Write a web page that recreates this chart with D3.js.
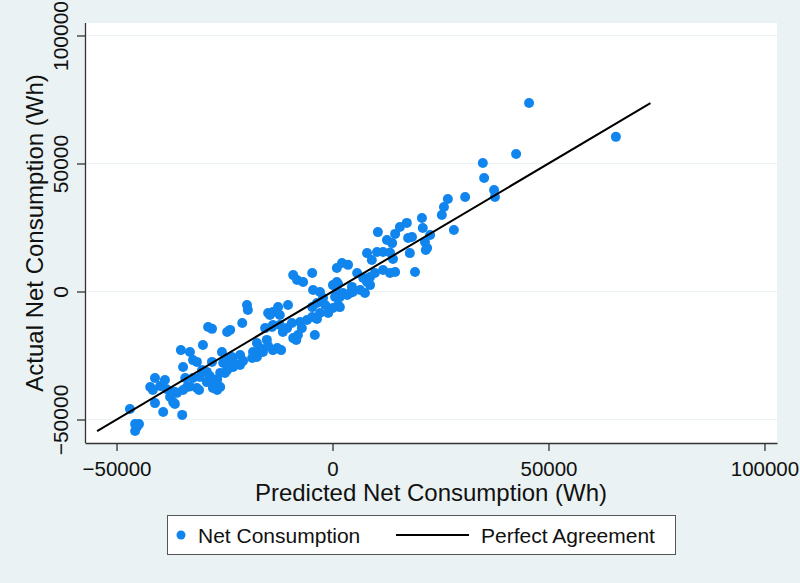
<!DOCTYPE html>
<html>
<head>
<meta charset="utf-8">
<script src="https://cdn.jsdelivr.net/npm/d3@7"></script>
<style>
  html, body { margin: 0; padding: 0; background: #eaf2f3; }
  svg { display: block; }
  text { font-family: "Liberation Sans", Arial, sans-serif; fill: #111; }
</style>
</head>
<body>
<svg id="chart" width="800" height="583"></svg>
<script>
// Predicted net consumption (Wh)
const predicted = [
  -46900,-45700,-45300,-45700,-44800,-42200,-41600,-41100,-39900,-38800,
  -38500,-37600,-36900,-37600,-36500,-36900,-36500,-41100,-39200,-34800,
  -34100,-33700,-34600,-33000,-32300,-31400,-30900,-36000,-30700,-30200,
  -29100,-28400,-29100,-27700,-26700,-26700,-27700,-26000,-26700,-26000,
  -24900,-24400,-23700,-25300,-23000,-34600,-32300,-31400,-35100,-33000,
  -30000,-27900,-25600,-24400,-23300,-23000,-21400,-20700,-21400,-28800,
  -27900,-24400,-23700,-20900,-19800,-19600,-18400,-17500,-18600,-16800,
  -16100,-17500,-15200,-14900,-13800,-12800,-11900,-15600,-14000,-13800,
  -12200,-11500,-10500,-9400,-14900,-13800,-14500,-12600,-12200,-10300,
  -8400,-9100,-8000,-7500,-7100,-5900,-4700,-3600,-2900,-1000,
  -4100,-4500,-2900,-2200,-1700,-4700,-3600,-9100,-8200,-6800,
  -4700,1000,1300,100,1000,1700,600,2400,3400,4100,
  4500,4700,7500,1700,1300,100,2200,3600,1000,5700,
  7100,8700,9800,8000,8700,6400,8000,9100,10300,11700,
  13300,14000,11700,13300,14500,10500,14500,12600,13800,15600,
  17200,17500,18400,17900,19100,20700,20900,21400,21900,21600,
  22600,25300,25800,26700,28100,30700,34800,35100,37400,37600,
  42500,45500,65600
];
// Actual net consumption (Wh)
const actual = [
  -45900,-51800,-52900,-54500,-51800,-37300,-38500,-33800,-36900,-34600,
  -38100,-38900,-39600,-41200,-39300,-43200,-43900,-43600,-47100,-48200,
  -33800,-37300,-38500,-37100,-33800,-37700,-38500,-39600,-33400,-30700,
  -31400,-33000,-35400,-34600,-34400,-36500,-37700,-37300,-38500,-31800,
  -31800,-30700,-29500,-27900,-29500,-29500,-26800,-27500,-22900,-23600,
  -20900,-27500,-23600,-26000,-25600,-27500,-24800,-27100,-28700,-13900,
  -14600,-15800,-15000,-12300,-5300,-7200,-23600,-25600,-26000,-22100,
  -23600,-20100,-18900,-21300,-22900,-22100,-22900,-14300,-13900,-13100,
  -13100,-15800,-14300,-12300,-8400,-8000,-9200,-6100,-9200,-5300,
  -18900,-18200,-17000,-11900,-14300,-11100,-10000,-10700,-8400,-8400,
  -17000,600,-200,-2500,-5300,-6100,-4500,6400,4500,3700,
  7200,3700,2900,2500,-200,-2100,-2100,-600,-1400,-600,
  1800,-200,-600,-6100,-5300,-6400,11100,10400,9200,7200,
  5300,5700,7200,3700,2500,600,15000,12300,15400,15400,
  15200,12700,8400,7200,7600,23200,22500,20100,18900,25200,
  26800,20900,21300,15000,7600,28700,24800,19300,17000,16200,
  22100,29900,33000,36100,24000,36900,50200,44300,39600,36900,
  53700,73600,60400
];
const xTicks = [-50000, 0, 50000, 100000];
const yTicks = [-50000, 0, 50000, 100000];
const xTitle = "Predicted Net Consumption (Wh)";
const yTitle = "Actual Net Consumption (Wh)";
const seriesNames = ["Net Consumption", "Perfect Agreement"];

const data = predicted.map((p, i) => ({ x: p, y: actual[i] }));
const lineRange = d3.extent(actual);

const svg = d3.select("#chart");
const W = 800, H = 583;
const plot = { left: 85, right: 777, top: 23, bottom: 443 };

svg.append("rect").attr("width", W).attr("height", H).attr("fill", "#eaf2f3");
svg.append("rect")
  .attr("x", plot.left).attr("y", plot.top)
  .attr("width", plot.right - plot.left).attr("height", plot.bottom - plot.top)
  .attr("fill", "#ffffff");

const x = d3.scaleLinear().domain([-57300, 102900]).range([plot.left, plot.right]);
const y = d3.scaleLinear().domain([-59180, 104880]).range([plot.bottom, plot.top]);

// gridlines
svg.append("g").selectAll("line").data(yTicks).join("line")
  .attr("x1", plot.left).attr("x2", plot.right)
  .attr("y1", d => Math.round(y(d)) + 0.5).attr("y2", d => Math.round(y(d)) + 0.5)
  .attr("stroke", "#eaf2f3").attr("stroke-width", 1);

// axes
const xAxis = svg.append("g").attr("transform", `translate(0,${plot.bottom})`)
  .call(d3.axisBottom(x).tickValues(xTicks).tickSize(8).tickSizeOuter(0).tickFormat(d3.format("d")));
xAxis.select(".domain").attr("stroke", "#333").attr("stroke-width", 1.3);
xAxis.selectAll(".tick line").attr("stroke", "#333").attr("stroke-width", 1.3);
xAxis.selectAll(".tick text").attr("font-size", 20.5).attr("dy", null).attr("y", 32.5)
  .attr("fill", "#111");

const yAxis = svg.append("g").attr("transform", `translate(${plot.left},0)`)
  .call(d3.axisLeft(y).tickValues(yTicks).tickSize(8).tickSizeOuter(0).tickFormat(d3.format("d")));
yAxis.select(".domain").attr("stroke", "#333").attr("stroke-width", 1.3)
  .attr("d", `M0.5,${plot.bottom}V${plot.top}`);
yAxis.selectAll(".tick line").attr("stroke", "#333").attr("stroke-width", 1.3);
yAxis.selectAll(".tick text")
  .attr("font-size", 21)
  .attr("x", null).attr("dy", null)
  .attr("text-anchor", "middle")
  .attr("transform", "translate(-17,0) rotate(-90)")
  .attr("fill", "#111");

// points
svg.append("g").selectAll("circle").data(data).join("circle")
  .attr("cx", d => x(d.x)).attr("cy", d => y(d.y)).attr("r", 5)
  .attr("fill", "#1185ee");

// perfect agreement line
svg.append("path")
  .datum(lineRange)
  .attr("d", d3.line().x(d => x(d)).y(d => y(d)))
  .attr("stroke", "#000").attr("stroke-width", 2).attr("fill", "none");

// axis titles
svg.append("text").attr("x", (plot.left + plot.right) / 2).attr("y", 501)
  .attr("text-anchor", "middle").attr("font-size", 24).text(xTitle);
svg.append("text")
  .attr("transform", `translate(43,${(plot.top + plot.bottom) / 2}) rotate(-90)`)
  .attr("text-anchor", "middle").attr("font-size", 24).text(yTitle);

// legend
const lg = svg.append("g");
lg.append("rect").attr("x", 167.5).attr("y", 515.5).attr("width", 508).attr("height", 39)
  .attr("fill", "#fff").attr("stroke", "#555").attr("stroke-width", 1);
lg.append("circle").attr("cx", 181).attr("cy", 535).attr("r", 4.5).attr("fill", "#1185ee");
lg.append("text").attr("x", 198).attr("y", 543).attr("font-size", 21).text(seriesNames[0]);
lg.append("line").attr("x1", 396).attr("x2", 469).attr("y1", 535).attr("y2", 535)
  .attr("stroke", "#000").attr("stroke-width", 2);
lg.append("text").attr("x", 481).attr("y", 543).attr("font-size", 21).text(seriesNames[1]);
</script>
</body>
</html>
